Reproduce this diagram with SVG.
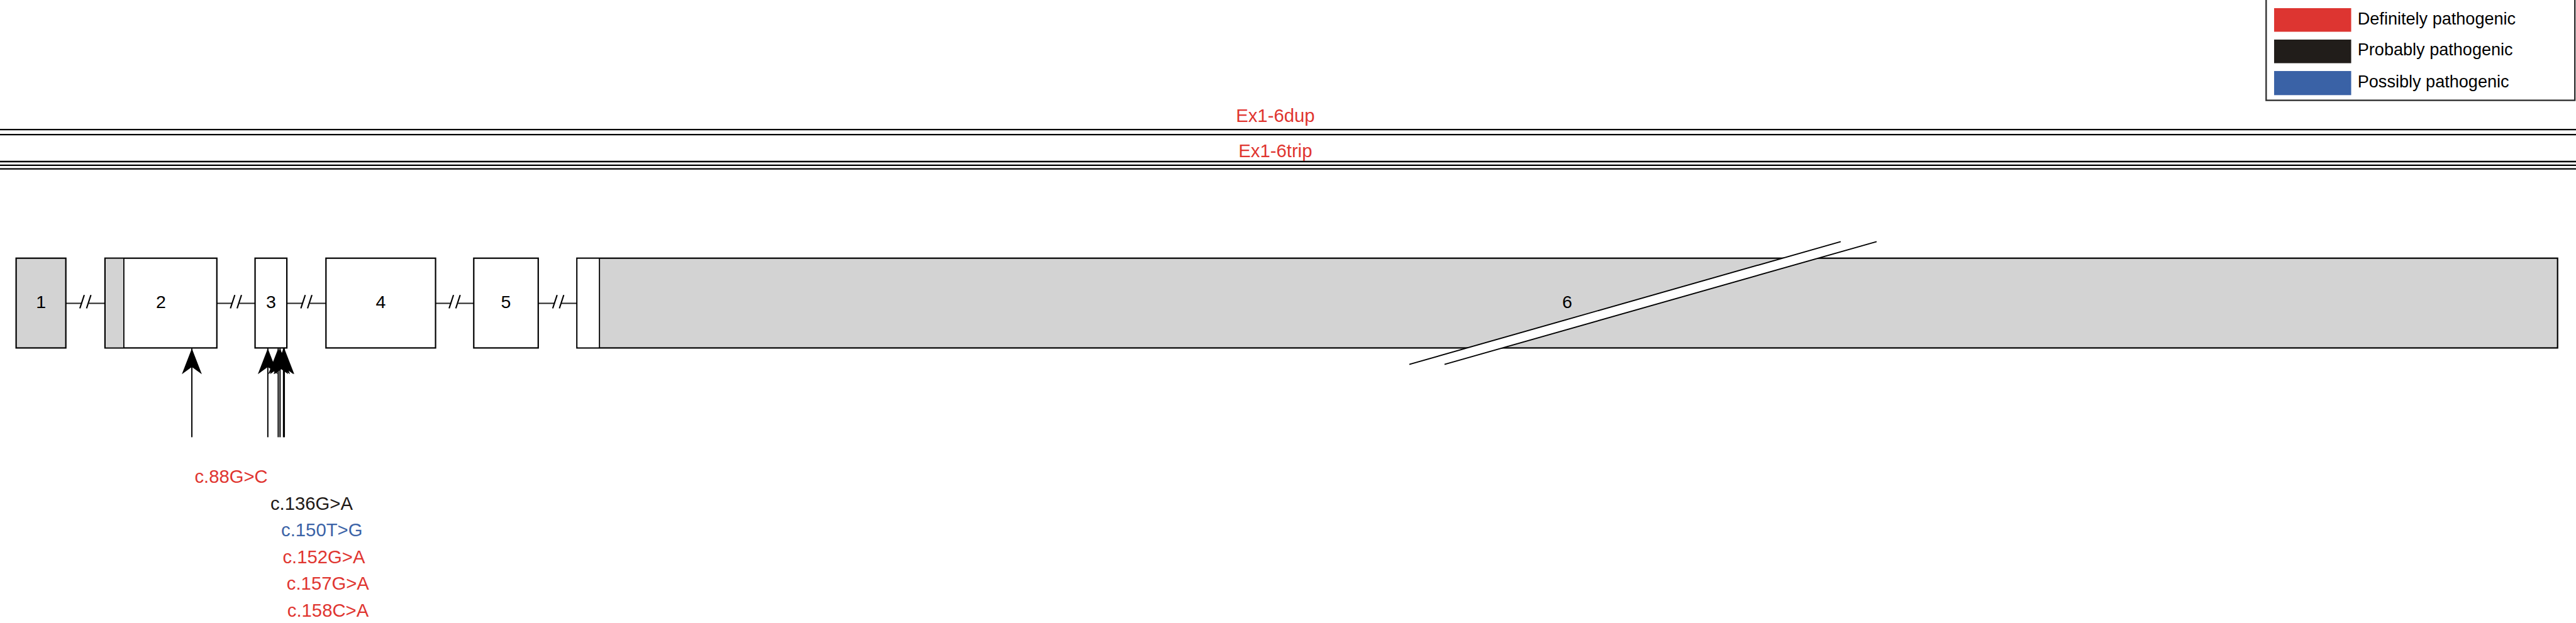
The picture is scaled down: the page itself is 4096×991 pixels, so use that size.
<svg xmlns="http://www.w3.org/2000/svg" width="4096" height="991" viewBox="0 0 4096 991">
  <style>
    .exon { stroke: #000; stroke-width: 3; }
    .gray { fill: #d3d3d3; }
    .white { fill: #fff; }
    .num { font-family: "Liberation Sans", Arial, sans-serif; font-size: 39px; fill: #000; text-anchor: middle; }
    .intron { stroke: #222; stroke-width: 2.6; fill: none; }
    .slash { stroke: #000; stroke-width: 3; fill: none; }
    .cnv { stroke: #000; stroke-width: 3.2; }
    .lbl { font-family: "Liberation Sans", Arial, sans-serif; font-size: 40px; }
    .red { fill: #e03530; }
    .blk { fill: #1f1a17; }
    .blu { fill: #3b63a7; }
    .arrow { stroke: #000; stroke-width: 2.7; marker-end: url(#ah); }
    .leg { font-family: "Liberation Sans", Arial, sans-serif; font-size: 37px; fill: #000; }
  </style>
  <defs>
    <marker id="ah" markerUnits="userSpaceOnUse" viewBox="-58 -25 62 50" markerWidth="62" markerHeight="50" refX="0" refY="0" orient="auto">
      <path d="M0,0 L-56,-21.7 L-40.5,0 L-56,21.7 Z" fill="#000"/>
    </marker>
  </defs>
  <rect width="4096" height="991" fill="#fff"/>
  <g transform="scale(0.73208)">
    <!-- CNV lines -->
    <g id="cnv-dup">
      <line class="cnv" x1="0" y1="281.5" x2="5595" y2="281.5"/>
      <line class="cnv" x1="0" y1="292.5" x2="5595" y2="292.5"/>
      <text class="lbl red" x="2770" y="265" text-anchor="middle" font-size="39.5">Ex1-6dup</text>
    </g>
    <g id="cnv-trip">
      <line class="cnv" x1="0" y1="351" x2="5595" y2="351"/>
      <line class="cnv" x1="0" y1="359" x2="5595" y2="359"/>
      <line class="cnv" x1="0" y1="367" x2="5595" y2="367"/>
      <text class="lbl red" x="2770" y="341.7" text-anchor="middle" font-size="39.5">Ex1-6trip</text>
    </g>

    <!-- introns with breaks -->
    <g id="connectors">
      <path class="intron" d="M143,659 H178 M193,659 H228"/>
      <path class="slash" d="M173.5,670 L183,641 M188,670 L197.5,641"/>
      <path class="intron" d="M471,659 H505 M520,659 H554"/>
      <path class="slash" d="M500.5,670 L510,641 M515,670 L524.5,641"/>
      <path class="intron" d="M623,659 H658 M673,659 H708"/>
      <path class="slash" d="M653.5,670 L663,641 M668,670 L677.5,641"/>
      <path class="intron" d="M946,659 H980 M995,659 H1029"/>
      <path class="slash" d="M975.5,670 L985,641 M990,670 L999.5,641"/>
      <path class="intron" d="M1169,659 H1205 M1219,659 H1253"/>
      <path class="slash" d="M1200.5,670 L1210,641 M1215,670 L1224.5,641"/>
      <!-- variant arrows -->
      <line class="arrow" x1="416.7" y1="950" x2="416.7" y2="757"/>
      <line class="arrow" x1="581.7" y1="950" x2="581.7" y2="757"/>
      <line class="arrow" x1="604.3" y1="950" x2="604.3" y2="757"/>
      <line class="arrow" x1="608.3" y1="950" x2="608.3" y2="757"/>
      <line class="arrow" x1="615.8" y1="950" x2="615.8" y2="757"/>
      <line class="arrow" x1="617.5" y1="950" x2="617.5" y2="757"/>
    </g>

    <!-- exons -->
    <g id="exon1">
      <rect class="exon gray" x="35" y="561" width="108" height="195"/>
      <text class="num" x="89" y="669">1</text>
    </g>
    <g id="exon2">
      <rect class="exon white" x="228" y="561" width="243" height="195"/>
      <rect class="gray" x="229.5" y="562.5" width="39.5" height="192"/>
      <line x1="269" y1="561" x2="269" y2="756" stroke="#000" stroke-width="2.5"/>
      <text class="num" x="349.5" y="669">2</text>
    </g>
    <g id="exon3">
      <rect class="exon white" x="554" y="561" width="69" height="195"/>
      <text class="num" x="588.5" y="669">3</text>
    </g>
    <g id="exon4">
      <rect class="exon white" x="708" y="561" width="238" height="195"/>
      <text class="num" x="827" y="669">4</text>
    </g>
    <g id="exon5">
      <rect class="exon white" x="1029" y="561" width="140" height="195"/>
      <text class="num" x="1099" y="669">5</text>
    </g>
    <g id="exon6">
      <rect class="exon gray" x="1253" y="561" width="4302" height="195"/>
      <rect class="white" x="1254.5" y="562.5" width="47.5" height="192"/>
      <line x1="1302" y1="561" x2="1302" y2="756" stroke="#000" stroke-width="2.5"/>
      <polygon points="3061,791.7 3998,525 4076,525 3137.5,791.7" fill="#fff"/>
      <line x1="3061" y1="791.7" x2="3998" y2="525" stroke="#000" stroke-width="2.6"/>
      <line x1="3137.5" y1="791.7" x2="4076" y2="525" stroke="#000" stroke-width="2.6"/>
      <text class="num" x="3404" y="669">6</text>
    </g>

    <!-- variant labels -->
    <g id="variants">
      <text class="lbl red" x="422.7" y="1049">c.88G&gt;C</text>
      <text class="lbl blk" x="587.3" y="1107.3">c.136G&gt;A</text>
      <text class="lbl blu" x="610.7" y="1165">c.150T&gt;G</text>
      <text class="lbl red" x="614" y="1223.3">c.152G&gt;A</text>
      <text class="lbl red" x="622.7" y="1281.7">c.157G&gt;A</text>
      <text class="lbl red" x="624" y="1340">c.158C&gt;A</text>
    </g>

    <!-- legend -->
    <g id="legend">
      <rect x="4922" y="-2" width="670.5" height="220" fill="#fff" stroke="#2e2e2e" stroke-width="3.2"/>
      <rect x="4939.3" y="17.7" width="167.4" height="51.3" fill="#dd3531"/>
      <rect x="4939.3" y="86" width="167.4" height="51.3" fill="#211d1a"/>
      <rect x="4939.3" y="154.3" width="167.4" height="52.4" fill="#3a62a6"/>
      <text class="leg" x="5120.7" y="53.3">Definitely pathogenic</text>
      <text class="leg" x="5120.7" y="120.7">Probably pathogenic</text>
      <text class="leg" x="5120.7" y="189.3">Possibly pathogenic</text>
    </g>
  </g>
</svg>
